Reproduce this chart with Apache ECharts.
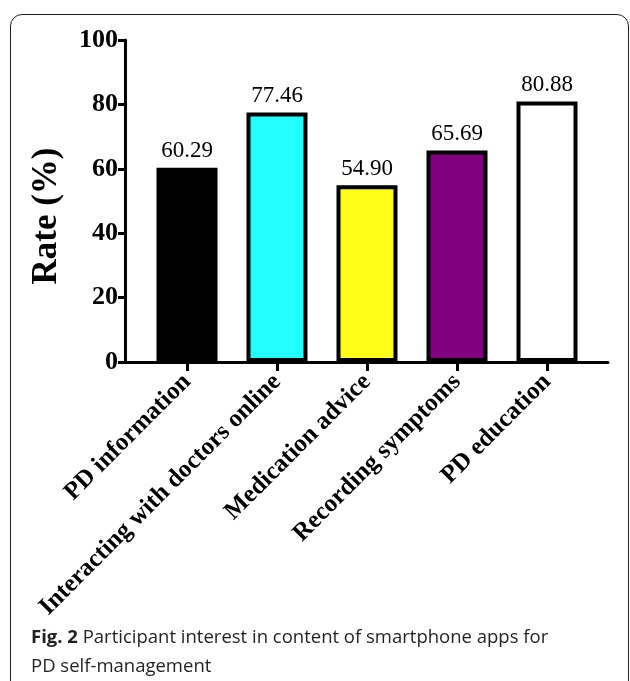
<!DOCTYPE html>
<html>
<head>
<meta charset="utf-8">
<script src="https://cdn.jsdelivr.net/npm/echarts@6/dist/echarts.min.js"></script>
<style>
  html, body { margin: 0; padding: 0; background: #fff; }
  #wrap { position: relative; width: 630px; height: 681px; overflow: hidden; }
  #frame { position: absolute; left: 10px; top: 14px; width: 619px; height: 720px;
           border: 1.6px solid #222; border-radius: 12px; box-sizing: border-box; pointer-events: none; }
  #chart { position: absolute; left: 0; top: 0; width: 630px; height: 681px; }
</style>
</head>
<body>
<div id="wrap">
  <div id="chart"></div>
  <div id="frame"></div>
</div>
<script>
const categories = ['PD information', 'Interacting with doctors online', 'Medication advice', 'Recording symptoms', 'PD education'];
const rates = [60.29, 77.46, 54.90, 65.69, 80.88];
const barColors = ['#000000', '#22ffff', '#ffff1a', '#800080', '#ffffff'];
const yTicks = [0, 20, 40, 60, 80, 100];

const serif = '"Liberation Serif", "Times New Roman", serif';
const chart = echarts.init(document.getElementById('chart'));

chart.setOption({
  animation: false,
  backgroundColor: '#fff',
  title: {
    left: 26, top: 618,
    text: '{b|Fig. 2} Participant interest in content of smartphone apps for\nPD self-management',
    textStyle: {
      fontFamily: '"Open Sans", sans-serif', fontSize: 18.5, fontWeight: 'normal', color: '#231f20', lineHeight: 29,
      rich: { b: { fontFamily: '"Open Sans", sans-serif', fontSize: 18.5, fontWeight: 'bold', color: '#231f20', lineHeight: 29 } }
    }
  },
  grid: [
    { left: 142, right: 38, top: 40, bottom: 319 },
    { left: 125, right: 22, top: 40, bottom: 319 }
  ],
  xAxis: [
    {
      type: 'category', gridIndex: 0, data: categories,
      axisLine: { show: false },
      axisTick: { show: true, alignWithLabel: true, length: 9, lineStyle: { color: '#000', width: 3 } },
      axisLabel: { rotate: 45, margin: 16, interval: 0, color: '#000', fontFamily: serif, fontWeight: 'bold', fontSize: 25 },
      splitLine: { show: false }
    },
    {
      type: 'value', gridIndex: 1, min: 0, max: 1,
      axisLine: { show: true, lineStyle: { color: '#000', width: 3 } },
      axisTick: { show: false }, axisLabel: { show: false }, splitLine: { show: false }
    }
  ],
  yAxis: [
    {
      type: 'value', gridIndex: 0, min: 0, max: 100, interval: 20,
      axisLine: { show: false }, axisTick: { show: false }, axisLabel: { show: false }, splitLine: { show: false }
    },
    {
      type: 'value', gridIndex: 1, min: yTicks[0], max: yTicks[yTicks.length - 1], interval: 20,
      name: 'Rate (%)', nameLocation: 'middle', nameGap: 61,
      nameTextStyle: { fontFamily: serif, fontWeight: 'bold', fontSize: 35, color: '#000', padding: [0, 30, 0, 0] },
      axisLine: { show: true, lineStyle: { color: '#000', width: 3 } },
      axisTick: { show: true, length: 7, lineStyle: { color: '#000', width: 3 } },
      axisLabel: { margin: 7, color: '#000', fontFamily: serif, fontWeight: 'bold', fontSize: 26 },
      splitLine: { show: false }
    }
  ],
  series: [{
    type: 'bar', xAxisIndex: 0, yAxisIndex: 0,
    barWidth: 61,
    data: rates.map((v, i) => ({ value: v, itemStyle: { color: barColors[i] } })),
    itemStyle: { borderColor: '#000', borderWidth: 4 },
    label: {
      show: true, position: 'top', distance: 5, color: '#000',
      fontFamily: serif, fontSize: 23,
      formatter: p => p.value.toFixed(2)
    }
  }]
});
</script>
</body>
</html>
